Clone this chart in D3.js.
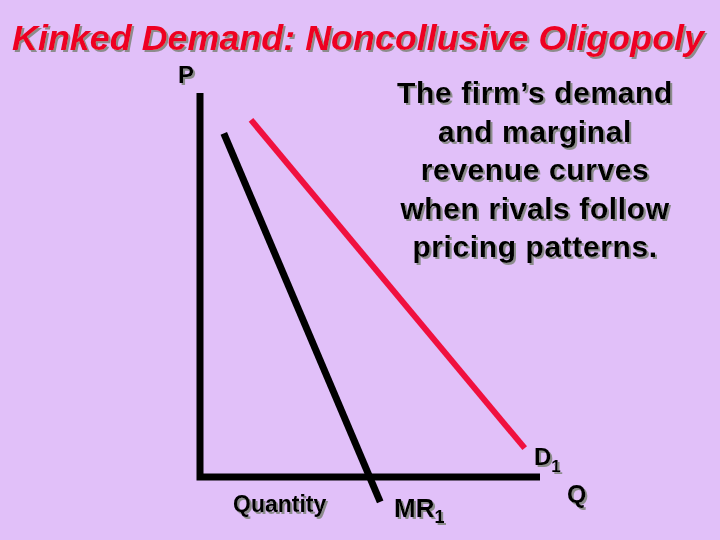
<!DOCTYPE html>
<html>
<head>
<meta charset="utf-8">
<script src="https://cdn.jsdelivr.net/npm/d3@7"></script>
<style>
  body { margin: 0; background: #e1c0f9; }
  svg { display: block; }
  text { font-family: "Liberation Sans", Arial, sans-serif; font-weight: bold; }
</style>
</head>
<body>
<div id="container"></div>
<script>
// demand curve D1 and marginal revenue MR1 (quantity, price)
const demandQ = [1.5, 9.55];
const demandP = [9.3, 0.75];
const mrQ = [0.7, 5.3];
const mrP = [8.95, -0.65];
const noteLines = ["The firm\u2019s demand", "and marginal", "revenue curves", "when rivals follow", "pricing patterns."];

const width = 720, height = 540;
const svg = d3.select("#container").append("svg")
  .attr("width", width).attr("height", height);

// gray drop shadow used by all texts
svg.append("defs").append("filter").attr("id", "shadow")
  .attr("x", "-5%").attr("y", "-20%").attr("width", "115%").attr("height", "150%")
  .append("feDropShadow")
  .attr("dx", 2).attr("dy", 2).attr("stdDeviation", 0)
  .attr("flood-color", "#8c8c8c").attr("flood-opacity", 1);

svg.append("rect").attr("width", width).attr("height", height).attr("fill", "#e1c0f9");

const x = d3.scaleLinear().domain([0, 10]).range([200, 540]);
const y = d3.scaleLinear().domain([0, 10]).range([477, 93]);

function label(txt, px, py, size, opts = {}) {
  const t = svg.append("text")
    .attr("x", px).attr("y", py)
    .attr("font-size", size)
    .attr("fill", opts.fill || "#000")
    .attr("text-anchor", opts.anchor || "start")
    .attr("filter", "url(#shadow)")
    .style("font-style", opts.italic ? "italic" : "normal")
    .style("letter-spacing", opts.ls || 0)
    .text(txt);
  if (opts.len) t.attr("textLength", opts.len).attr("lengthAdjust", "spacingAndGlyphs");
  return t;
}

// title
label("Kinked Demand: Noncollusive Oligopoly", 12, 50, 35, { fill: "#ee0022", italic: true, len: 692 });

// axes
svg.append("path")
  .attr("d", `M${x(0)},${y(10)} L${x(0)},${y(0)} L${x(10)},${y(0)}`)
  .attr("fill", "none").attr("stroke", "#000").attr("stroke-width", 7)
  .attr("stroke-linejoin", "miter");

const line = d3.line().x(d => x(d[0])).y(d => y(d[1]));

// demand
svg.append("path")
  .attr("d", line(d3.zip(demandQ, demandP)))
  .attr("stroke", "#f0103f").attr("stroke-width", 6).attr("fill", "none");

// marginal revenue
svg.append("path")
  .attr("d", line(d3.zip(mrQ, mrP)))
  .attr("stroke", "#000").attr("stroke-width", 7).attr("fill", "none");

// note
noteLines.forEach((s, i) => label(s, 535, 103 + i * 38.5, 30, { anchor: "middle", ls: "0.6px" }));

// axis labels
label("P", 178, 83, 24);
label("Quantity", 233, 512, 23);
label("Q", 567, 503, 25);

// subscripted labels
function subLabel(main, sub, px, py, size, subSize, dy) {
  const t = svg.append("text").attr("x", px).attr("y", py)
    .attr("font-size", size).attr("fill", "#000").attr("filter", "url(#shadow)");
  t.append("tspan").text(main);
  t.append("tspan").attr("font-size", subSize).attr("dy", dy).text(sub);
}
subLabel("MR", "1", 394, 517, 26, 18, 6);
subLabel("D", "1", 534, 465, 24, 17, 7);
</script>
</body>
</html>
